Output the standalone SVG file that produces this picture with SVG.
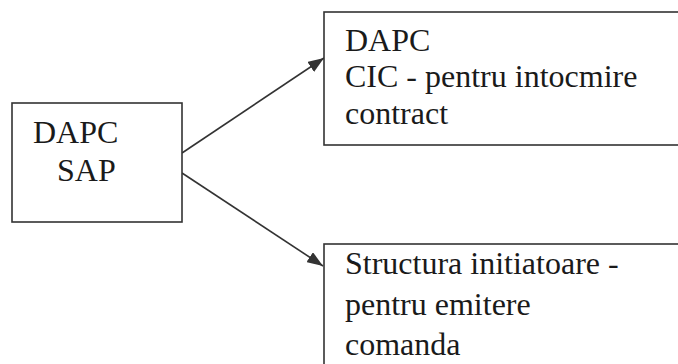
<svg xmlns="http://www.w3.org/2000/svg" width="678" height="364" viewBox="0 0 678 364">
<style>
.box{fill:#fff;stroke:#333;stroke-width:1.6}
.t{font-family:'Liberation Serif','DejaVu Serif',serif;font-size:32px;fill:#1a1a1a}
.c{stroke:#333;stroke-width:1.6;fill:none}
</style>
<defs>
<marker id="ah" viewBox="0 0 16 12" refX="16" refY="6" markerWidth="16" markerHeight="12" markerUnits="userSpaceOnUse" orient="auto">
<path d="M0,0 L16,6 L0,12 z" fill="#333"/>
</marker>
</defs>
<rect width="678" height="364" fill="#fff"/>
<g id="connectors">
<line class="c" x1="182" y1="153" x2="324" y2="58" marker-end="url(#ah)"/>
<line class="c" x1="182" y1="173" x2="323" y2="266" marker-end="url(#ah)"/>
</g>
<g id="node-sap">
<rect class="box" x="12" y="103" width="170" height="119"/>
<text class="t" x="33" y="143">DAPC</text>
<text class="t" x="57" y="181">SAP</text>
</g>
<g id="node-cic">
<rect class="box" x="324" y="12" width="370" height="133"/>
<text class="t" x="345" y="51">DAPC</text>
<text class="t" x="345" y="87">CIC - pentru intocmire</text>
<text class="t" x="345" y="124">contract</text>
</g>
<g id="node-structura">
<rect class="box" x="324" y="244" width="370" height="140"/>
<text class="t" x="345" y="274">Structura initiatoare -</text>
<text class="t" x="345" y="315">pentru emitere</text>
<text class="t" x="345" y="355">comanda</text>
</g>
</svg>
